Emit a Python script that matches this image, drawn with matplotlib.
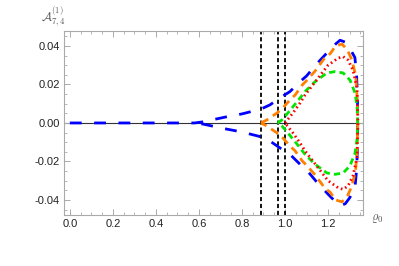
import matplotlib
matplotlib.use('Agg')
import matplotlib.pyplot as plt
import numpy as np
from matplotlib.ticker import MultipleLocator, FormatStrFormatter

plt.rcParams['font.family'] = ['Liberation Sans', 'DejaVu Sans']
plt.rcParams['mathtext.fontset'] = 'cm'
plt.rcParams['lines.scale_dashes'] = False

# upper branches (lower branches are mirrored)
blue_x = [0.0, 0.58, 0.62, 0.665, 0.72, 0.80, 0.888, 0.93, 0.986, 1.023, 1.07, 1.10,
          1.15, 1.20, 1.235, 1.256, 1.28, 1.30, 1.325, 1.333, 1.337, 1.338]
blue_y = [0.0, 0.0, 0.0006, 0.0017, 0.003, 0.0047, 0.0072, 0.0094, 0.0137, 0.0163, 0.0215, 0.0244,
          0.031, 0.037, 0.041, 0.043, 0.042, 0.039, 0.034, 0.024, 0.012, 0.0]

orange_x = [0.888, 0.916, 0.963, 0.99, 1.023, 1.047, 1.08, 1.10, 1.14, 1.186, 1.21,
            1.235, 1.265, 1.29, 1.31, 1.328, 1.336, 1.338]
orange_y = [0.0, 0.0016, 0.0052, 0.0078, 0.012, 0.0145, 0.0197, 0.022, 0.027, 0.034, 0.036,
            0.040, 0.041, 0.038, 0.033, 0.025, 0.012, 0.0]

red_x = [1.0, 1.037, 1.07, 1.093, 1.147, 1.20, 1.247, 1.27, 1.293, 1.316, 1.335, 1.339]
red_y = [0.0, 0.0052, 0.0104, 0.0145, 0.0223, 0.030, 0.0337, 0.0345, 0.0327, 0.0275, 0.018, 0.0]

green_x = [0.966, 0.986, 1.015, 1.056, 1.093, 1.14, 1.195, 1.233, 1.27, 1.302, 1.326, 1.335, 1.338]
green_y = [0.0, 0.0016, 0.0054, 0.011, 0.0163, 0.0215, 0.026, 0.0267, 0.026, 0.0223, 0.0155, 0.0083, 0.0]

vlines = [0.888, 0.966, 1.0]


def loop(xs, ys):
    # upper branch out to the end, then the mirrored lower branch back to the branch point
    xs = np.asarray(xs)
    ys = np.asarray(ys)
    start = np.argmax(ys > 0) - 1
    back_x = xs[start:-1][::-1]
    back_y = -ys[start:-1][::-1]
    return np.concatenate([xs, back_x]), np.concatenate([ys, back_y])


fig = plt.figure(figsize=(3.99, 2.66), dpi=100)
ax = fig.add_axes([0.160, 0.192, 0.750, 0.6915])

ax.axhline(0, color='#333333', lw=0.8, zorder=1)
for v in vlines:
    ax.axvline(v, color='black', lw=1.3, dashes=(3, 2), zorder=2)

styles = [
    (blue_x, blue_y, 'blue', (8.5, 9.0)),
    (orange_x, orange_y, '#ff8000', (6.0, 4.0)),
    (green_x, green_y, '#00e600', (4.5, 3.0)),
    (red_x, red_y, 'red', (1.2, 2.2)),
]
for xs, ys, col, dsh in styles:
    lx, ly = loop(xs, ys)
    ax.plot(lx, ly, color=col, lw=2.0, dashes=dsh, zorder=3)

ax.set_xlim(-0.028, 1.363)
ax.set_ylim(-0.0478, 0.0478)
ax.xaxis.set_major_locator(MultipleLocator(0.2))
ax.xaxis.set_minor_locator(MultipleLocator(0.05))
ax.yaxis.set_major_locator(MultipleLocator(0.02))
ax.yaxis.set_minor_locator(MultipleLocator(0.005))
ax.xaxis.set_major_formatter(FormatStrFormatter('%.1f'))
ax.yaxis.set_major_formatter(FormatStrFormatter('%.2f'))

for s in ax.spines.values():
    s.set_color('#aaaaaa')
    s.set_linewidth(0.8)
ax.tick_params(which='both', direction='in', top=True, right=True,
               color='#aaaaaa', labelsize=8, labelcolor='#222222')
ax.tick_params(which='major', length=4, width=0.7, pad=3)
ax.tick_params(which='minor', length=2, width=0.6)

fig.text(0.135, 0.94, r'$\mathcal{A}^{(1)}_{7,4}$', fontsize=9, color='#555555',
         ha='center', va='center')
fig.text(0.945, 0.18, r'$\varrho_0$', fontsize=9, color='#555555',
         ha='center', va='center')

fig.savefig('out.png', dpi=100)
